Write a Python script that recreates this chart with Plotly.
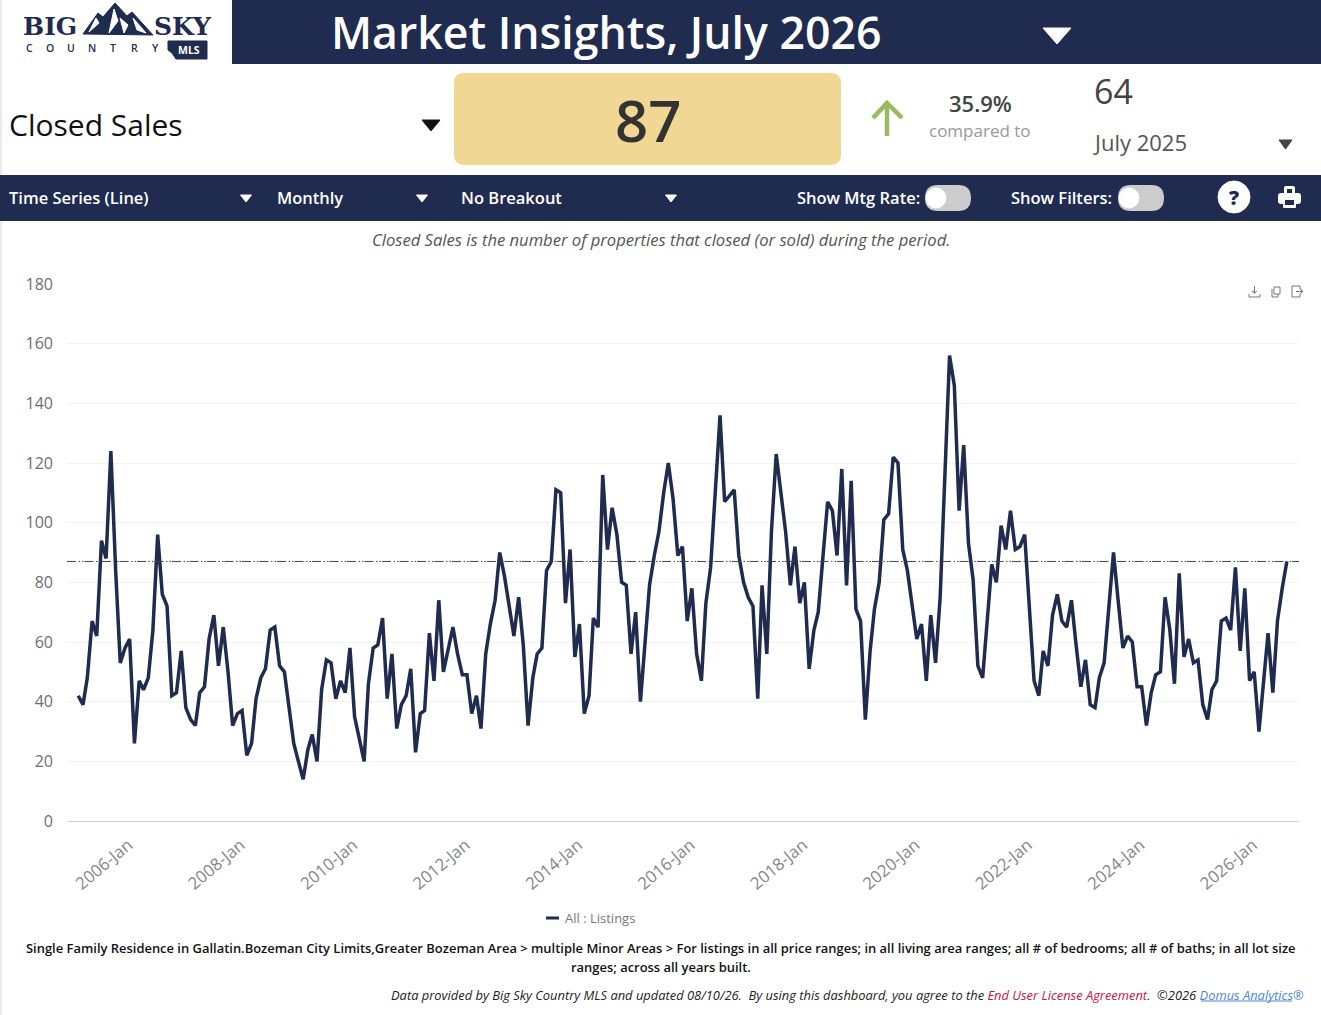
import pandas as pd
import plotly.graph_objects as go

W = 1321
H = 1015
NAVY = "#1f2b4f"
FONT = "Open Sans"

# monthly closed sales, starting January 2005
closed_sales = [
    42, 39, 48, 67, 62, 94, 88, 124, 84, 53, 58, 61,
    26, 47, 44, 48, 64, 96, 76, 72, 42, 43, 57, 38,
    34, 32, 43, 45, 61, 69, 52, 65, 50, 32, 36, 37,
    22, 26, 41, 48, 51, 64, 65, 52, 50, 39, 26, 20,
    14, 24, 29, 20, 44, 54, 53, 41, 47, 43, 58, 35,
    27, 20, 46, 58, 59, 68, 41, 56, 31, 39, 42, 51,
    23, 36, 37, 63, 47, 74, 50, 58, 65, 56, 49, 49,
    36, 42, 31, 56, 66, 74, 90, 82, 72, 62, 75, 59,
    32, 48, 56, 58, 84, 87, 111, 110, 73, 91, 55, 66,
    36, 42, 68, 65, 116, 91, 105, 96, 80, 79, 56, 70,
    40, 61, 79, 89, 97, 110, 120, 108, 89, 92, 67, 78,
    56, 47, 73, 85, 109, 136, 107, 109, 111, 89, 80, 75,
    72, 41, 79, 56, 97, 123, 110, 97, 79, 92, 73, 80,
    51, 64, 70, 89, 107, 104, 89, 118, 79, 114, 71, 67,
    34, 57, 71, 80, 101, 103, 122, 120, 91, 84, 72, 61,
    66, 47, 69, 53, 75, 118, 156, 146, 104, 126, 93, 81,
    52, 48, 66, 86, 80, 99, 91, 104, 91, 92, 96, 72,
    47, 42, 57, 52, 69, 76, 67, 65, 74, 59, 45, 54,
    39, 38, 48, 53, 70, 90, 74, 58, 62, 60, 45, 45,
    32, 43, 49, 50, 75, 64, 46, 83, 55, 61, 53, 54,
    39, 34, 44, 47, 67, 68, 64, 85, 57, 78, 47, 50,
    30, 47, 63, 43, 67, 78, 87,
]
current_value = 87
prior_value = 64
pct_change = "35.9%"
y_ticks = [0, 20, 40, 60, 80, 100, 120, 140, 160, 180]
series_name = "All : Listings"
months = pd.date_range("2005-01-01", periods=len(closed_sales), freq="MS")


def px(x):
    return x / W


def py(y):
    return 1 - y / H


def path(points, close=True):
    d = "M " + " L ".join(f"{px(x):.5f},{py(y):.5f}" for x, y in points)
    return d + (" Z" if close else "")


shapes = []
annotations = []


def rect(x0, y0, x1, y1, color):
    shapes.append(dict(type="rect", xref="paper", yref="paper", x0=px(x0), x1=px(x1),
                       y0=py(y0), y1=py(y1), fillcolor=color, line_width=0, layer="below"))


def poly(points, color, layer="above"):
    shapes.append(dict(type="path", xref="paper", yref="paper", path=path(points),
                       fillcolor=color, line=dict(color=color, width=1), layer=layer))


def stroke(points, color, width):
    shapes.append(dict(type="path", xref="paper", yref="paper", path=path(points, close=False),
                       line=dict(color=color, width=width), layer="above"))


def circle(cx, cy, r, color, line=None):
    shapes.append(dict(type="circle", xref="paper", yref="paper", x0=px(cx - r), x1=px(cx + r),
                       y0=py(cy + r), y1=py(cy - r), fillcolor=color,
                       line=dict(color=line or color, width=1), layer="above"))


def pill(x0, y0, x1, y1, r, color):
    # rounded box, drawn with an svg path in paper coordinates
    def p(x, y):
        return f"{px(x):.5f},{py(y):.5f}"
    d = (f"M {p(x0 + r, y0)} L {p(x1 - r, y0)} Q {p(x1, y0)} {p(x1, y0 + r)} "
         f"L {p(x1, y1 - r)} Q {p(x1, y1)} {p(x1 - r, y1)} L {p(x0 + r, y1)} "
         f"Q {p(x0, y1)} {p(x0, y1 - r)} L {p(x0, y0 + r)} Q {p(x0, y0)} {p(x0 + r, y0)} Z")
    shapes.append(dict(type="path", xref="paper", yref="paper", path=d,
                       fillcolor=color, line_width=0, layer="above"))


def text(x, y, s, size, color, anchor="left", weight=400, family=FONT):
    annotations.append(dict(xref="paper", yref="paper", x=px(x), y=py(y), text=s, showarrow=False,
                            xanchor=anchor, yanchor="middle", align=anchor, borderpad=0,
                            font=dict(family=family, size=size, color=color, weight=weight)))


# page frame and bars
rect(0, 0, 2, H, "#e9ebf0")
rect(232, 0, W, 64, NAVY)
rect(0, 175, W, 221, NAVY)
pill(454, 73, 841, 165, 10, "#f0d894")

# logo
text(22, 27, "BIG", 25, NAVY, weight=700, family="DejaVu Serif")
text(153, 27, "SKY", 25, NAVY, weight=700, family="DejaVu Serif")
for i, letter in enumerate("COUNTRY"):
    text(29 + 21 * i, 48, letter, 10.5, NAVY, anchor="center", weight=600)
poly([(83, 34), (98, 13), (103, 17), (115, 3), (127, 16), (132, 12), (153, 35)], NAVY)
for streak in ([(96, 18), (89, 32), (99, 23)], [(114, 9), (109, 33), (118, 21)],
               [(120, 18), (124, 33), (128, 25)], [(133, 18), (146, 33), (137, 30)]):
    poly(streak, "#ffffff")
poly([(168, 41), (207, 41), (207, 59), (176, 59), (172, 53), (168, 50)], NAVY)
text(189, 50, "MLS", 10.5, "#ffffff", anchor="center", weight=700)

# title row
text(330, 32, "Market Insights, July 2026", 44.6, "#ffffff", weight=600)
poly([(1043, 28), (1071, 28), (1057, 44)], "#ffffff")

# headline numbers
text(8, 124, "Closed Sales", 30, "#111111", weight=500)
poly([(422, 120), (440, 120), (431, 131)], "#111111")
text(648, 119, str(current_value), 58, "#333333", anchor="center", weight=600)
stroke([(887, 136), (887, 103)], "#9aba5f", 4.5)
stroke([(873, 118), (887, 103), (902, 118)], "#9aba5f", 4.5)
text(980, 103, pct_change, 22, "#444444", anchor="center", weight=600)
text(980, 130, "compared to", 17, "#999999", anchor="center")
text(1093, 91, str(prior_value), 34, "#444444", weight=500)
text(1092, 142, "July 2025", 22, "#555555")
poly([(1279, 140), (1292, 140), (1285.5, 149)], "#444444")

# toolbar
text(8, 198, "Time Series (Line)", 16.5, "#ffffff", weight=600)
text(276, 198, "Monthly", 16.5, "#ffffff", weight=600)
text(460, 198, "No Breakout", 16.5, "#ffffff", weight=600)
for tx in (246, 422, 671):
    poly([(tx - 5.5, 195), (tx + 5.5, 195), (tx, 202)], "#ffffff")
text(796, 198, "Show Mtg Rate:", 16.5, "#ffffff", weight=600)
text(1010, 198, "Show Filters:", 16.5, "#ffffff", weight=600)
for tx in (925, 1118):
    pill(tx, 185, tx + 46, 211, 13, "#cccccc")
    circle(tx + 11, 198, 10, "#ffffff")
circle(1234, 197, 16, "#ffffff")
text(1234, 197, "?", 20, NAVY, anchor="center", weight=800)
pill(1284, 186, 1295, 196, 2, "#ffffff")
pill(1287, 189, 1292, 194, 0.5, NAVY)
pill(1278, 193, 1301, 204, 3, "#ffffff")
pill(1283, 199, 1296, 208, 1, "#ffffff")
rect(1285, 200, 1294, 205, NAVY)
shapes[-1]["layer"] = "above"

text(661, 240, "<i>Closed Sales is the number of properties that closed (or sold) during the period.</i>",
     16.6, "#555555", anchor="center")

# little chart toolbar icons
ICON = "#777777"
stroke([(1249, 294), (1249, 297), (1260, 297), (1260, 294)], ICON, 1)
stroke([(1254.5, 286), (1254.5, 293), (1252, 291), (1254.5, 293), (1257, 291)], ICON, 1)
stroke([(1272, 289), (1272, 297), (1278, 297), (1278, 294)], ICON, 1)
stroke([(1274, 287), (1280, 287), (1280, 294), (1274, 294), (1274, 287)], ICON, 1)
stroke([(1300, 289), (1300, 286), (1292, 286), (1292, 297), (1300, 297), (1300, 294)], ICON, 1)
stroke([(1296, 291.5), (1303, 291.5), (1300, 289), (1303, 291.5), (1300, 294)], ICON, 1)

# reference line at the current value
shapes.append(dict(type="line", xref="paper", yref="y", x0=px(67), x1=px(1299),
                   y0=current_value, y1=current_value, layer="above",
                   line=dict(color="#444444", width=1, dash="9px,2.5px,1.5px,2px,1.5px,1px")))

# legend
stroke([(546, 918), (559, 918)], NAVY, 3)
text(564, 918, series_name, 13, "#777777")

# footers
text(661, 948, "Single Family Residence in Gallatin.Bozeman City Limits,Greater Bozeman Area &gt; multiple Minor Areas "
     "&gt; For listings in all price ranges; in all living area ranges; all # of bedrooms; all # of baths; in all lot size",
     12.95, "#111111", anchor="center", weight=600)
text(661, 967, "ranges; across all years built.", 12.95, "#111111", anchor="center", weight=600)
text(1305, 995, "<i>Data provided by Big Sky Country MLS and updated 08/10/26.  By using this dashboard, you agree to the "
     "<span style='color:#c8143c'>End User License Agreement</span>.  ©2026 "
     "<span style='color:#4a86d8'>Domus Analytics®</span></i>",
     12.9, "#222222", anchor="right")
stroke([(1201, 1001), (1292, 1001)], "#4a86d8", 1)

fig = go.Figure()
fig.add_trace(go.Scatter(x=months, y=closed_sales, mode="lines", name=series_name,
                         line=dict(color=NAVY, width=3.5), hoverinfo="x+y"))

fig.update_layout(
    width=W,
    height=H,
    autosize=False,
    margin=dict(l=0, r=0, t=0, b=0, autoexpand=False),
    paper_bgcolor="#ffffff",
    plot_bgcolor="#ffffff",
    showlegend=False,
    font=dict(family=FONT),
    shapes=shapes,
    annotations=annotations,
    xaxis=dict(
        domain=[px(67), px(1299)],
        range=["2004-10-20", "2026-09-18"],
        type="date",
        automargin=False,
        tick0="2006-01-01",
        dtick="M24",
        tickformat="%Y-%b",
        tickangle=-40,
        ticklabelstandoff=10,
        ticklabelshift=-6,
        showgrid=False,
        zeroline=False,
        showline=False,
        ticks="",
        tickfont=dict(family=FONT, size=16.8, color="#85858c"),
    ),
    yaxis=dict(
        domain=[py(821), py(284)],
        range=[0, 180],
        automargin=False,
        tickvals=y_ticks,
        showgrid=True,
        gridcolor="#f2f3f5",
        gridwidth=1,
        zeroline=True,
        zerolinecolor="#cfd2d8",
        zerolinewidth=1,
        ticks="",
        ticklabelstandoff=13,
        tickfont=dict(family=FONT, size=16, color="#6e6e76"),
    ),
)

fig.write_html("out.html", config={"displayModeBar": False},
               post_script="document.body.style.margin='0';document.body.style.overflow='hidden';")
